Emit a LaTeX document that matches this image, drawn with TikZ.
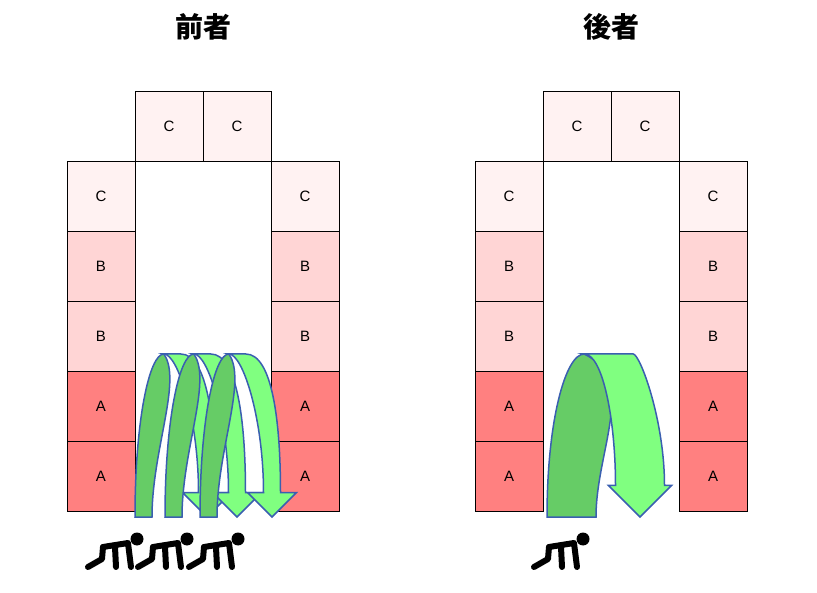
\documentclass[tikz,border=0pt]{standalone}
\usepackage{fontspec}
\setmainfont{Liberation Sans}
\newfontfamily\cjk{Noto Sans CJK JP}
\usetikzlibrary{positioning}
\definecolor{cellC}{HTML}{FFF2F2}
\definecolor{cellB}{HTML}{FFD5D5}
\definecolor{cellA}{HTML}{FF8080}
\definecolor{backG}{HTML}{66CC66}
\definecolor{frontG}{HTML}{80FF80}
\definecolor{edgeB}{HTML}{3A5FB0}
\tikzset{
  cell/.style={draw=black, line width=0.8pt, minimum width=68pt, minimum height=70pt, inner sep=0pt, outer sep=0pt, font=\fontsize{15}{17}\selectfont},
  title/.style={font=\cjk\bfseries\fontsize{28}{32}\selectfont},
  runner/.style={line width=6pt, line cap=round, line join=round, black},
  pics/uturn/.style n args={2}{code={% #1 leg width, #2 tip offset
    \path[fill=backG, draw=edgeB, line width=1.5pt]
      (0,517) .. controls (0,420) and (0.2*#2,354) .. (0.4*#2,354)
      .. controls (0.4*#2+1.1*#1,380) and (#1,450) .. (#1,517) -- cycle;
    \path[fill=frontG, draw=edgeB, line width=1.5pt]
      (0.4*#2,354) -- (0.4*#2+#1,354)
      .. controls (#2,354) and (#2+0.5*#1,420) .. (#2+0.5*#1,517-0.34*#2)
      -- (1.34*#2,517-0.34*#2) -- (#2,517) -- (0.66*#2,517-0.34*#2)
      -- (#2-0.5*#1,517-0.34*#2)
      .. controls (#2-0.5*#1,420) and (0.6*#2,354) .. (0.4*#2,354) -- cycle;
  }},
  pics/crouch/.style={code={
    \fill (0,0) circle (6.5pt);
    \draw[runner] (-34,8) -- (-9,4) -- (-6,28);
    \draw[runner] (-34,8) -- (-35,20) -- (-49,28);
    \draw[runner] (-22,8) -- (-21,28);
  }}
}
\begin{document}
\begin{tikzpicture}[x=1pt,y=-1pt]
  \useasboundingbox (0,0) rectangle (817,593);
  % both blocks
  \foreach \dx/\nm in {0/L, 408/R} {
    \node[cell, fill=cellC] (\nm top1) at (169+\dx,126) {C};
    \node[cell, fill=cellC, right=0pt of \nm top1] (\nm top2) {C};
    \node[cell, fill=cellC] (\nm l1) at (101+\dx,196) {C};
    \node[cell, fill=cellB, below=0pt of \nm l1] (\nm l2) {B};
    \node[cell, fill=cellB, below=0pt of \nm l2] (\nm l3) {B};
    \node[cell, fill=cellA, below=0pt of \nm l3] (\nm l4) {A};
    \node[cell, fill=cellA, below=0pt of \nm l4] (\nm l5) {A};
    \node[cell, fill=cellC] (\nm r1) at (305+\dx,196) {C};
    \node[cell, fill=cellB, below=0pt of \nm r1] (\nm r2) {B};
    \node[cell, fill=cellB, below=0pt of \nm r2] (\nm r3) {B};
    \node[cell, fill=cellA, below=0pt of \nm r3] (\nm r4) {A};
    \node[cell, fill=cellA, below=0pt of \nm r4] (\nm r5) {A};
  }
  \node[title] (titleL) at (203,27) {前者};
  \node[title] (titleR) at (611,27) {後者};
  % turning arrows
  \foreach \x in {135,165,200} \pic at (\x,0) {uturn={17}{72}};
  \pic at (547,0) {uturn={49}{93}};
  % runners
  \foreach \x in {137,187,238} \pic at (\x,539) {crouch};
  \pic at (583,539) {crouch};
\end{tikzpicture}
\end{document}
